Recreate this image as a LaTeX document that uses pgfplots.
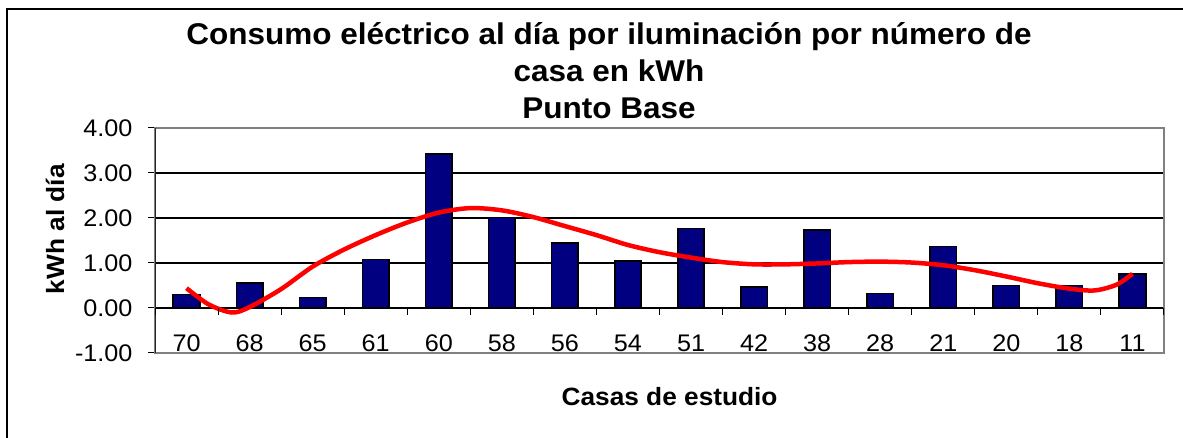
\documentclass[border=0pt]{standalone}
\usepackage{fontspec}
\setmainfont{Liberation Sans}[FakeStretch=1.05]
\usepackage{pgfplots}
\pgfplotsset{compat=1.18}
\definecolor{barnavy}{RGB}{0,0,128}
\definecolor{framegray}{RGB}{128,128,128}

\begin{document}
\begin{tikzpicture}[x=1pt,y=1pt]
\useasboundingbox (0,0) rectangle (1183,438);
\draw[black, line width=1.2pt] (7,-5) -- (7,429) -- (1190,429);
\begin{axis}[
  at={(155pt,85pt)}, anchor=south west,
  scale only axis, width=1009pt, height=225pt,
  xmin=-0.5, xmax=15.5, ymin=-1, ymax=4,
  axis line style={framegray, line width=1.8pt},
  xtick={0,...,15},
  xticklabels={70,68,65,61,60,58,56,54,51,42,38,28,21,20,18,11},
  xtick style={draw=none},
  xticklabel style={yshift=29pt},
  ytick={-1,0,1,2,3,4},
  yticklabels={-1.00,0.00,1.00,2.00,3.00,4.00},
  ytick pos=left, xtick pos=bottom,
  tick align=outside, major tick length=7pt,
  ytick style={black, line width=1pt},
  ymajorgrids, grid style={black, line width=1.1pt},
  tick label style={font=\fontsize{24}{28}\selectfont},
  yticklabel style={xshift=-12pt},
  title={Consumo eléctrico al día por iluminación por número de\\casa en kWh\\Punto Base},
  title style={at={(rel axis cs:0.45,1)}, anchor=south, yshift=3pt, inner sep=0pt,
    align=center, font=\fontsize{30}{37}\selectfont\bfseries},
  xlabel={Casas de estudio},
  xlabel style={at={(rel axis cs:0.51,0)}, anchor=center, yshift=-44pt,
    font=\fontsize{25}{28}\selectfont\bfseries},
  ylabel={kWh al día},
  every axis y label/.style={at={([xshift=-100pt]rel axis cs:0,0.55)}, rotate=90, anchor=center,
    font=\fontsize{25}{28}\selectfont\bfseries},
]
\addplot[ybar, bar width=0.42, fill=barnavy, draw=black, line width=1.6pt] coordinates {
  (0,0.30) (1,0.55) (2,0.23) (3,1.08) (4,3.42) (5,2.01) (6,1.45) (7,1.05)
  (8,1.77) (9,0.46) (10,1.73) (11,0.32) (12,1.37) (13,0.50) (14,0.50) (15,0.75)
};
\addplot[red, line width=4.5pt, smooth] coordinates {
  (0,0.44) (0.35,0.08) (0.72,-0.10) (1,0.02) (1.5,0.42) (2,0.92) (2.5,1.30)
  (3,1.62) (3.5,1.90) (4,2.12) (4.5,2.22) (5,2.17) (5.5,2.02) (6,1.82)
  (6.5,1.62) (7,1.40) (7.5,1.24) (8,1.12) (8.5,1.02) (9,0.97) (9.5,0.97)
  (10,0.99) (10.5,1.02) (11,1.03) (11.5,1.01) (12,0.95) (12.5,0.84) (13,0.70)
  (13.5,0.55) (14,0.43) (14.4,0.39) (14.75,0.52) (15,0.76)
};
\draw[black!85, line width=1.6pt] (rel axis cs:0,0) -- (rel axis cs:0,1);
\pgfplotsinvokeforeach{-0.5,0.5,...,15.5}{
  \draw[black, line width=1pt] (axis cs:#1,0) -- ([yshift=-7pt]axis cs:#1,0);
}
\end{axis}
\end{tikzpicture}
\end{document}
